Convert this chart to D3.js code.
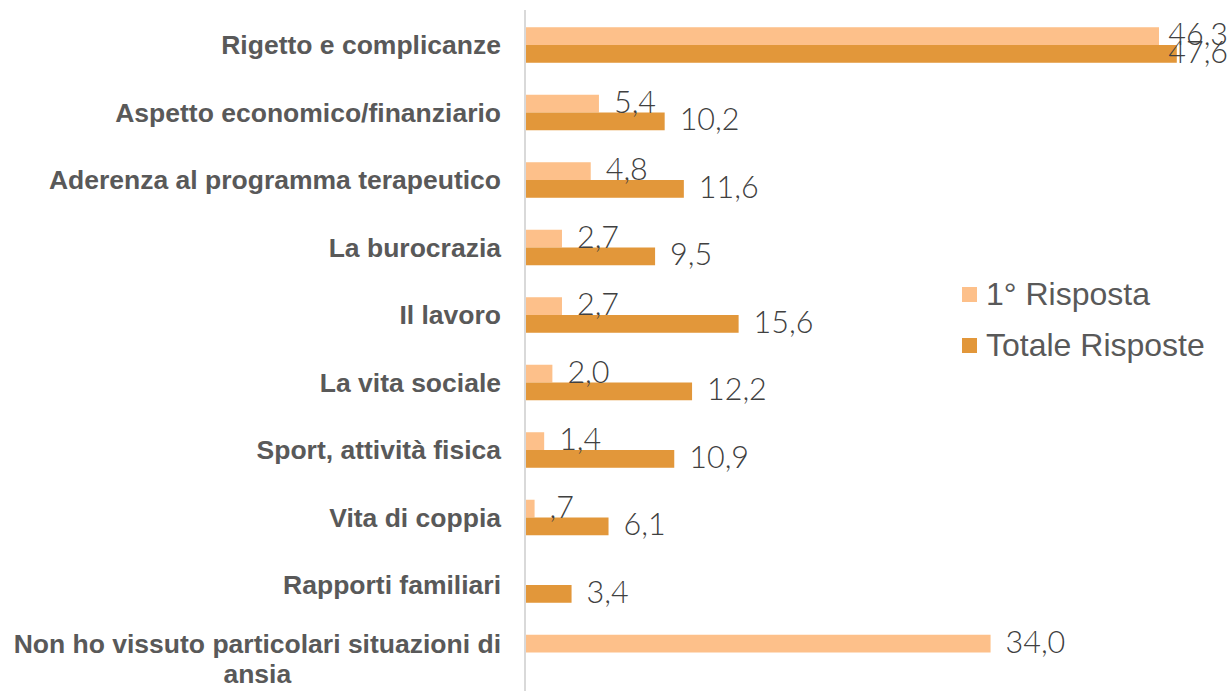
<!DOCTYPE html>
<html>
<head>
<meta charset="utf-8">
<script src="https://cdn.jsdelivr.net/npm/d3@7"></script>
<style>
  body { margin: 0; background: #fff; }
  svg { display: block; }
  .cat { font-family: "Liberation Sans", Arial, sans-serif; font-weight: bold; font-size: 26.5px; fill: #595959; }
  .val { font-family: Lato, "Open Sans", sans-serif; font-weight: 300; font-size: 30.5px; fill: #404040; }
  .leg { font-family: "Liberation Sans", Arial, sans-serif; font-size: 32px; fill: #595959; }
</style>
</head>
<body>
<svg width="1229" height="691"></svg>
<script>
const svg = d3.select('svg'),
    width = +svg.attr('width'),
    height = +svg.attr('height');

// chart data
const categories = [
  'Rigetto e complicanze',
  'Aspetto economico/finanziario',
  'Aderenza al programma terapeutico',
  'La burocrazia',
  'Il lavoro',
  'La vita sociale',
  'Sport, attività fisica',
  'Vita di coppia',
  'Rapporti familiari',
  'Non ho vissuto particolari situazioni di ansia'
];
const seriesNames = ['1° Risposta', 'Totale Risposte'];
const primaRisposta = [46.3, 5.4, 4.8, 2.7, 2.7, 2.0, 1.4, 0.7, null, 34.0];
const totaleRisposte = [47.6, 10.2, 11.6, 9.5, 15.6, 12.2, 10.9, 6.1, 3.4, null];
const colors = ['#FDC08A', '#E2973A'];

const x0 = 525;

const x = d3.scaleLinear()
    .domain([0, 46.3])
    .range([x0, 1159]);

const y = d3.scaleBand()
    .domain(categories)
    .range([11.25, 686.25]);

const ySub = d3.scaleBand()
    .domain(seriesNames)
    .range([0, y.bandwidth()])
    .paddingOuter(0.9);

const color = d3.scaleOrdinal().domain(seriesNames).range(colors);

// Excel style: 0,7 -> ,7
const fmt = v => d3.format('.1f')(v).replace('.', ',').replace(/^0,/, ',');

const rows = [];
categories.forEach((c, i) => {
  [primaRisposta[i], totaleRisposte[i]].forEach((v, j) => {
    if (v != null) rows.push({cat: c, series: seriesNames[j], value: v});
  });
});

// bars
svg.append('g')
  .selectAll('rect')
    .data(rows)
    .enter().append('rect')
      .attr('x', x0)
      .attr('y', d => y(d.cat) + ySub(d.series))
      .attr('width', d => x(d.value) - x0)
      .attr('height', ySub.bandwidth())
      .attr('fill', d => color(d.series));

// value labels, baseline on the bar bottom, kept inside the right edge
svg.append('g')
  .selectAll('text')
    .data(rows)
    .enter().append('text')
      .attr('class', 'val')
      .attr('y', d => y(d.cat) + ySub(d.series) + ySub.bandwidth())
      .text(d => fmt(d.value))
      .attr('x', function(d) {
        const w = this.getComputedTextLength();
        return Math.min(x(d.value) + 15, width - 1 - w);
      });

// vertical axis line
svg.append('line')
    .attr('x1', x0).attr('x2', x0)
    .attr('y1', 10).attr('y2', height)
    .attr('stroke', '#d9d9d9')
    .attr('stroke-width', 2);

// category labels, wrapped and centred when too long
const maxW = 490;
svg.append('g')
  .selectAll('text')
    .data(categories)
    .enter().append('text')
      .attr('class', 'cat')
      .each(function(c) {
        const t = d3.select(this);
        const words = c.split(' ');
        let lines = [], line = [];
        words.forEach(w => {
          t.text([...line, w].join(' '));
          if (this.getComputedTextLength() > maxW && line.length) {
            lines.push(line.join(' '));
            line = [w];
          } else line.push(w);
        });
        lines.push(line.join(' '));
        t.text(null);
        const widths = lines.map(l => { t.text(l); return this.getComputedTextLength(); });
        t.text(null);
        const blockW = d3.max(widths);
        const cx = 501 - blockW / 2;
        const lh = 30;
        const cy = y(c) + y.bandwidth() / 2 + 9 - (lines.length - 1) * 9;
        lines.forEach((l, k) => {
          t.append('tspan')
            .attr('x', lines.length > 1 ? cx : 501)
            .attr('text-anchor', lines.length > 1 ? 'middle' : 'end')
            .attr('y', cy + k * lh)
            .text(l);
        });
      });

// legend
const legend = svg.append('g')
  .selectAll('g')
    .data(seriesNames)
    .enter().append('g')
      .attr('transform', (d, i) => `translate(962, ${287 + i * 51})`);

legend.append('rect')
    .attr('width', 15)
    .attr('height', 15)
    .attr('fill', d => color(d));

legend.append('text')
    .attr('class', 'leg')
    .attr('x', 24)
    .attr('y', 18)
    .text(d => d);
</script>
</body>
</html>
